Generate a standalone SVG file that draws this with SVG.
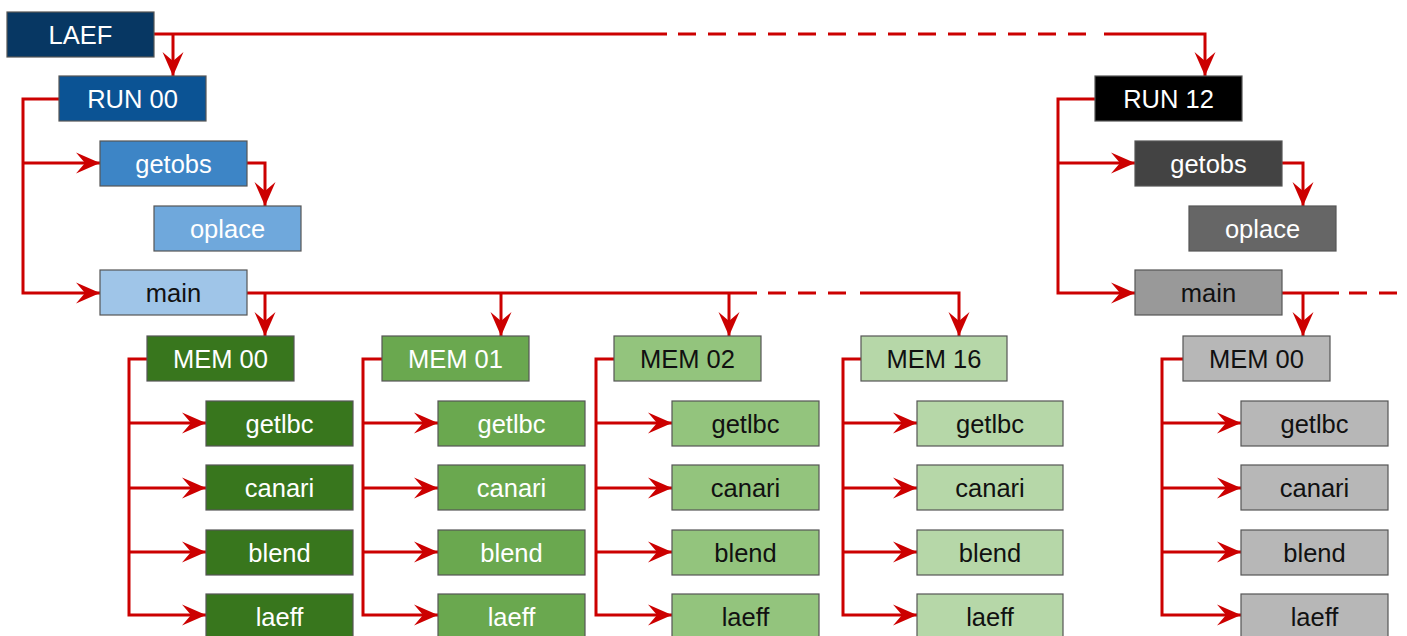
<svg xmlns="http://www.w3.org/2000/svg" width="1407" height="636" viewBox="0 0 1407 636">
<style>
.n rect{stroke:#555;stroke-width:1.2}
.n text{font-family:"Liberation Sans",Arial,sans-serif;font-size:25.5px;text-anchor:middle}
.w text{fill:#fff}
.k text{fill:#111}
.c path{fill:none;stroke:#cc0000;stroke-width:3}
.c .d{stroke-dasharray:18 12}
.c .a{marker-end:url(#ah)}
</style>
<defs>
<marker id="ah" markerUnits="userSpaceOnUse" viewBox="-25 -11 26 22" refX="0" refY="0" markerWidth="26" markerHeight="22" orient="auto">
<path d="M0,0 L-24,-10.5 L-15,0 L-24,10.5 Z" fill="#cc0000"/>
</marker>
</defs>
<rect width="1407" height="636" fill="#fff"/>
<g id="connectors" class="c">
<path d="M154,34 H667"/>
<path class="d" d="M678,34 H1090"/>
<path class="a" d="M1104,34 H1205 V76"/>
<path class="a" d="M173,34 V76"/>
<path class="a" d="M59,99 H23 V293 H100"/>
<path class="a" d="M23,163 H100"/>
<path class="a" d="M247,163 H265 V206"/>
<path d="M247,293 H757"/>
<path class="d" d="M768,293 H852"/>
<path class="a" d="M860,293 H959 V336"/>
<path class="a" d="M265,293 V336"/>
<path class="a" d="M501,293 V336"/>
<path class="a" d="M729,293 V336"/>
<path class="a" d="M147,359 H129 V615 H206"/>
<path class="a" d="M129,423 H206"/><path class="a" d="M129,488 H206"/><path class="a" d="M129,552 H206"/>
<path class="a" d="M382,359 H363 V615 H438"/>
<path class="a" d="M363,423 H438"/><path class="a" d="M363,488 H438"/><path class="a" d="M363,552 H438"/>
<path class="a" d="M614,359 H596 V615 H672"/>
<path class="a" d="M596,423 H672"/><path class="a" d="M596,488 H672"/><path class="a" d="M596,552 H672"/>
<path class="a" d="M861,359 H843 V615 H917"/>
<path class="a" d="M843,423 H917"/><path class="a" d="M843,488 H917"/><path class="a" d="M843,552 H917"/>
<path class="a" d="M1095,99 H1058 V293 H1135"/>
<path class="a" d="M1058,163 H1135"/>
<path class="a" d="M1282,163 H1303 V206"/>
<path d="M1282,293 H1339"/>
<path class="d" d="M1349,293 H1400"/>
<path class="a" d="M1303,293 V336"/>
<path class="a" d="M1183,359 H1162 V615 H1241"/>
<path class="a" d="M1162,423 H1241"/><path class="a" d="M1162,488 H1241"/><path class="a" d="M1162,552 H1241"/>
</g>
<g id="laef" class="n w"><rect x="7" y="12" width="147" height="45" fill="#073763"/><text x="80.5" y="44">LAEF</text></g>
<g id="run00" class="n w"><rect x="59" y="76" width="147" height="45" fill="#0b5394"/><text x="132.5" y="108">RUN 00</text></g>
<g id="getobs00" class="n w"><rect x="100" y="141" width="147" height="45" fill="#3d85c6"/><text x="173.5" y="173">getobs</text></g>
<g id="oplace00" class="n w"><rect x="154" y="206" width="147" height="45" fill="#6fa8dc"/><text x="227.5" y="238">oplace</text></g>
<g id="main00" class="n k"><rect x="100" y="270" width="147" height="45" fill="#9fc5e8"/><text x="173.5" y="302">main</text></g>

<g id="mem00" class="n w"><rect x="147" y="336" width="147" height="45" fill="#38761d"/><text x="220.5" y="368">MEM 00</text></g>
<g id="mem00-getlbc" class="n w"><rect x="206" y="401" width="147" height="45" fill="#38761d"/><text x="279.5" y="433">getlbc</text></g>
<g id="mem00-canari" class="n w"><rect x="206" y="465" width="147" height="45" fill="#38761d"/><text x="279.5" y="497">canari</text></g>
<g id="mem00-blend" class="n w"><rect x="206" y="530" width="147" height="45" fill="#38761d"/><text x="279.5" y="562">blend</text></g>
<g id="mem00-laeff" class="n w"><rect x="206" y="594" width="147" height="45" fill="#38761d"/><text x="279.5" y="626">laeff</text></g>

<g id="mem01" class="n w"><rect x="382" y="336" width="147" height="45" fill="#6aa84f"/><text x="455.5" y="368">MEM 01</text></g>
<g id="mem01-getlbc" class="n w"><rect x="438" y="401" width="147" height="45" fill="#6aa84f"/><text x="511.5" y="433">getlbc</text></g>
<g id="mem01-canari" class="n w"><rect x="438" y="465" width="147" height="45" fill="#6aa84f"/><text x="511.5" y="497">canari</text></g>
<g id="mem01-blend" class="n w"><rect x="438" y="530" width="147" height="45" fill="#6aa84f"/><text x="511.5" y="562">blend</text></g>
<g id="mem01-laeff" class="n w"><rect x="438" y="594" width="147" height="45" fill="#6aa84f"/><text x="511.5" y="626">laeff</text></g>

<g id="mem02" class="n k"><rect x="614" y="336" width="147" height="45" fill="#93c47d"/><text x="687.5" y="368">MEM 02</text></g>
<g id="mem02-getlbc" class="n k"><rect x="672" y="401" width="147" height="45" fill="#93c47d"/><text x="745.5" y="433">getlbc</text></g>
<g id="mem02-canari" class="n k"><rect x="672" y="465" width="147" height="45" fill="#93c47d"/><text x="745.5" y="497">canari</text></g>
<g id="mem02-blend" class="n k"><rect x="672" y="530" width="147" height="45" fill="#93c47d"/><text x="745.5" y="562">blend</text></g>
<g id="mem02-laeff" class="n k"><rect x="672" y="594" width="147" height="45" fill="#93c47d"/><text x="745.5" y="626">laeff</text></g>

<g id="mem16" class="n k"><rect x="861" y="336" width="146" height="45" fill="#b6d7a8"/><text x="934" y="368">MEM 16</text></g>
<g id="mem16-getlbc" class="n k"><rect x="917" y="401" width="146" height="45" fill="#b6d7a8"/><text x="990" y="433">getlbc</text></g>
<g id="mem16-canari" class="n k"><rect x="917" y="465" width="146" height="45" fill="#b6d7a8"/><text x="990" y="497">canari</text></g>
<g id="mem16-blend" class="n k"><rect x="917" y="530" width="146" height="45" fill="#b6d7a8"/><text x="990" y="562">blend</text></g>
<g id="mem16-laeff" class="n k"><rect x="917" y="594" width="146" height="45" fill="#b6d7a8"/><text x="990" y="626">laeff</text></g>

<g id="run12" class="n w"><rect x="1095" y="76" width="147" height="45" fill="#000000"/><text x="1168.5" y="108">RUN 12</text></g>
<g id="getobs12" class="n w"><rect x="1135" y="141" width="147" height="45" fill="#434343"/><text x="1208.5" y="173">getobs</text></g>
<g id="oplace12" class="n w"><rect x="1189" y="206" width="147" height="45" fill="#666666"/><text x="1262.5" y="238">oplace</text></g>
<g id="main12" class="n k"><rect x="1135" y="270" width="147" height="45" fill="#999999"/><text x="1208.5" y="302">main</text></g>

<g id="mem00-12" class="n k"><rect x="1183" y="336" width="147" height="45" fill="#b7b7b7"/><text x="1256.5" y="368">MEM 00</text></g>
<g id="mem00-12-getlbc" class="n k"><rect x="1241" y="401" width="147" height="45" fill="#b7b7b7"/><text x="1314.5" y="433">getlbc</text></g>
<g id="mem00-12-canari" class="n k"><rect x="1241" y="465" width="147" height="45" fill="#b7b7b7"/><text x="1314.5" y="497">canari</text></g>
<g id="mem00-12-blend" class="n k"><rect x="1241" y="530" width="147" height="45" fill="#b7b7b7"/><text x="1314.5" y="562">blend</text></g>
<g id="mem00-12-laeff" class="n k"><rect x="1241" y="594" width="147" height="45" fill="#b7b7b7"/><text x="1314.5" y="626">laeff</text></g>
</svg>
